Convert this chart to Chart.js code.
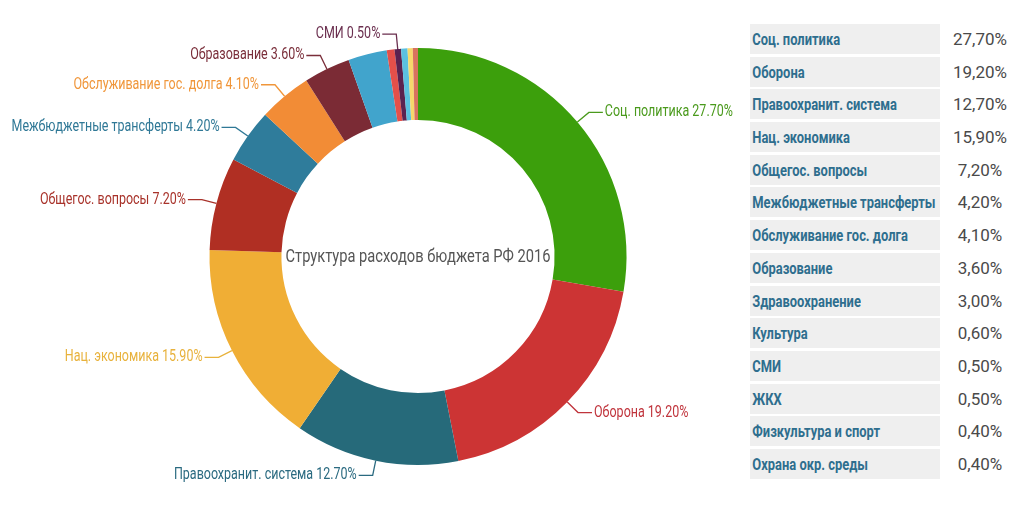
<!DOCTYPE html>
<html lang="ru">
<head>
<meta charset="utf-8">
<title>Структура расходов бюджета РФ 2016</title>
<script src="https://cdn.jsdelivr.net/npm/chart.js@4.4.1/dist/chart.umd.min.js"></script>
<style>
    html, body { margin: 0; padding: 0; background: #fff; }
    #wrap { position: relative; width: 1024px; height: 511px; overflow: hidden; }
    #chartBox { position: absolute; left: 0; top: 0; width: 740px; height: 511px; }
    #budgetTable { position: absolute; left: 750px; top: 24px; }
    .row { display: flex; height: 30px; margin-bottom: 2.7px; }
    .name {
        width: 190px; background: #efefef; color: #2e6e8e;
        font: bold 17px Roboto, sans-serif; line-height: 30px;
        white-space: nowrap; overflow: hidden;
    }
    .name span { display: inline-block; padding-left: 3px; transform: scaleX(0.76); transform-origin: left center; }
    .val {
        width: 76px; margin-left: 2px; color: #4a4a4a; text-align: center;
        font: 17px Roboto, sans-serif; line-height: 30px;
    }
</style>
</head>
<body>
<div id="wrap">
    <div id="chartBox"><canvas id="budgetChart"></canvas></div>
    <div id="budgetTable"></div>
</div>
<script>
(() => {
    'use strict';

    // Data
    const chartTitle = 'Структура расходов бюджета РФ 2016';
    const categories = [
        'Соц. политика', 'Оборона', 'Правоохранит. система', 'Нац. экономика',
        'Общегос. вопросы', 'Межбюджетные трансферты', 'Обслуживание гос. долга',
        'Образование', 'Здравоохранение', 'Культура', 'СМИ', 'ЖКХ',
        'Физкультура и спорт', 'Охрана окр. среды'
    ];
    const shares = [27.7, 19.2, 12.7, 15.9, 7.2, 4.2, 4.1, 3.6, 3.0, 0.6, 0.5, 0.5, 0.4, 0.4];
    const sliceColors = [
        '#3c9f0c', '#cc3434', '#266a7a', '#f0ae35', '#b02f23', '#2f7c9b', '#f28c36',
        '#7b2b35', '#41a4cc', '#e4504a', '#5b2250', '#5bc0e0', '#f6d86c', '#d8735e'
    ];
    const labelColors = [
        '#4a9a1c', '#c0343c', '#2a6a80', '#e8b23c', '#a8322a', '#2f7896', '#f0963a',
        '#7a2e3a', '#41a4cc', '#e4504a', '#6a2e4e', '#5bc0e0', '#f6d86c', '#d8735e'
    ];
    // slices that get a callout label
    const withCallout = [true, true, true, true, true, true, true, true, false, false, true, false, false, false];

    const labelCondense = 0.78;
    const titleCondense = 0.815;

    // Table on the right
    const table = document.getElementById('budgetTable');
    table.innerHTML = categories.map((name, i) => `
        <div class="row">
            <div class="name"><span>${name}</span></div>
            <div class="val">${shares[i].toFixed(2).replace('.', ',')}%</div>
        </div>
    `).join('');

    // Condensed text helper
    function drawCondensed(ctx, text, x, y, align, factor) {
        const w = ctx.measureText(text).width * factor;
        let left = x;
        if (align === 'right') left = x - w;
        else if (align === 'center') left = x - w / 2;
        ctx.save();
        ctx.translate(left, y);
        ctx.scale(factor, 1);
        ctx.textAlign = 'left';
        ctx.fillText(text, 0, 0);
        ctx.restore();
    }

    const calloutPlugin = {
        id: 'callouts',
        afterDatasetsDraw(chart) {
            const ctx = chart.ctx;
            const meta = chart.getDatasetMeta(0);
            ctx.save();
            ctx.font = '16px Roboto, sans-serif';
            ctx.textBaseline = 'middle';
            ctx.lineWidth = 1.3;
            meta.data.forEach((arc, i) => {
                if (!withCallout[i]) return;
                const p = arc.getProps(['x', 'y', 'startAngle', 'endAngle', 'outerRadius'], true);
                const mid = (p.startAngle + p.endAngle) / 2;
                const cos = Math.cos(mid), sin = Math.sin(mid);
                const x0 = p.x + cos * p.outerRadius;
                const y0 = p.y + sin * p.outerRadius;
                const ex = p.x + cos * (p.outerRadius + 15);
                const ey = p.y + sin * (p.outerRadius + 15);
                const side = cos >= 0 ? 1 : -1;
                const hx = ex + side * 14;

                ctx.strokeStyle = labelColors[i];
                ctx.beginPath();
                ctx.moveTo(x0, y0);
                ctx.lineTo(ex, ey);
                ctx.lineTo(hx, ey);
                ctx.stroke();

                ctx.fillStyle = labelColors[i];
                const text = `${categories[i]} ${shares[i].toFixed(2)}%`;
                drawCondensed(ctx, text, hx + side * 2, ey, side > 0 ? 'left' : 'right', labelCondense);
            });
            ctx.restore();
        }
    };

    const centerTitlePlugin = {
        id: 'centerTitle',
        afterDraw(chart) {
            const ctx = chart.ctx;
            const arc = chart.getDatasetMeta(0).data[0];
            if (!arc) return;
            ctx.save();
            ctx.font = '18px Roboto, sans-serif';
            ctx.fillStyle = '#555555';
            ctx.textBaseline = 'middle';
            drawCondensed(ctx, chartTitle, arc.x, arc.y + 1, 'center', titleCondense);
            ctx.restore();
        }
    };

    new Chart(document.getElementById('budgetChart'), {
        type: 'doughnut',
        data: {
            labels: categories,
            datasets: [{
                data: shares,
                backgroundColor: sliceColors,
                borderWidth: 0
            }]
        },
        options: {
            responsive: true,
            maintainAspectRatio: false,
            animation: false,
            cutout: '65.5%',
            layout: { padding: { left: 96, right: 0, top: 48, bottom: 46 } },
            plugins: {
                legend: { display: false },
                tooltip: { enabled: false }
            }
        },
        plugins: [calloutPlugin, centerTitlePlugin]
    });
})();
</script>
</body>
</html>
